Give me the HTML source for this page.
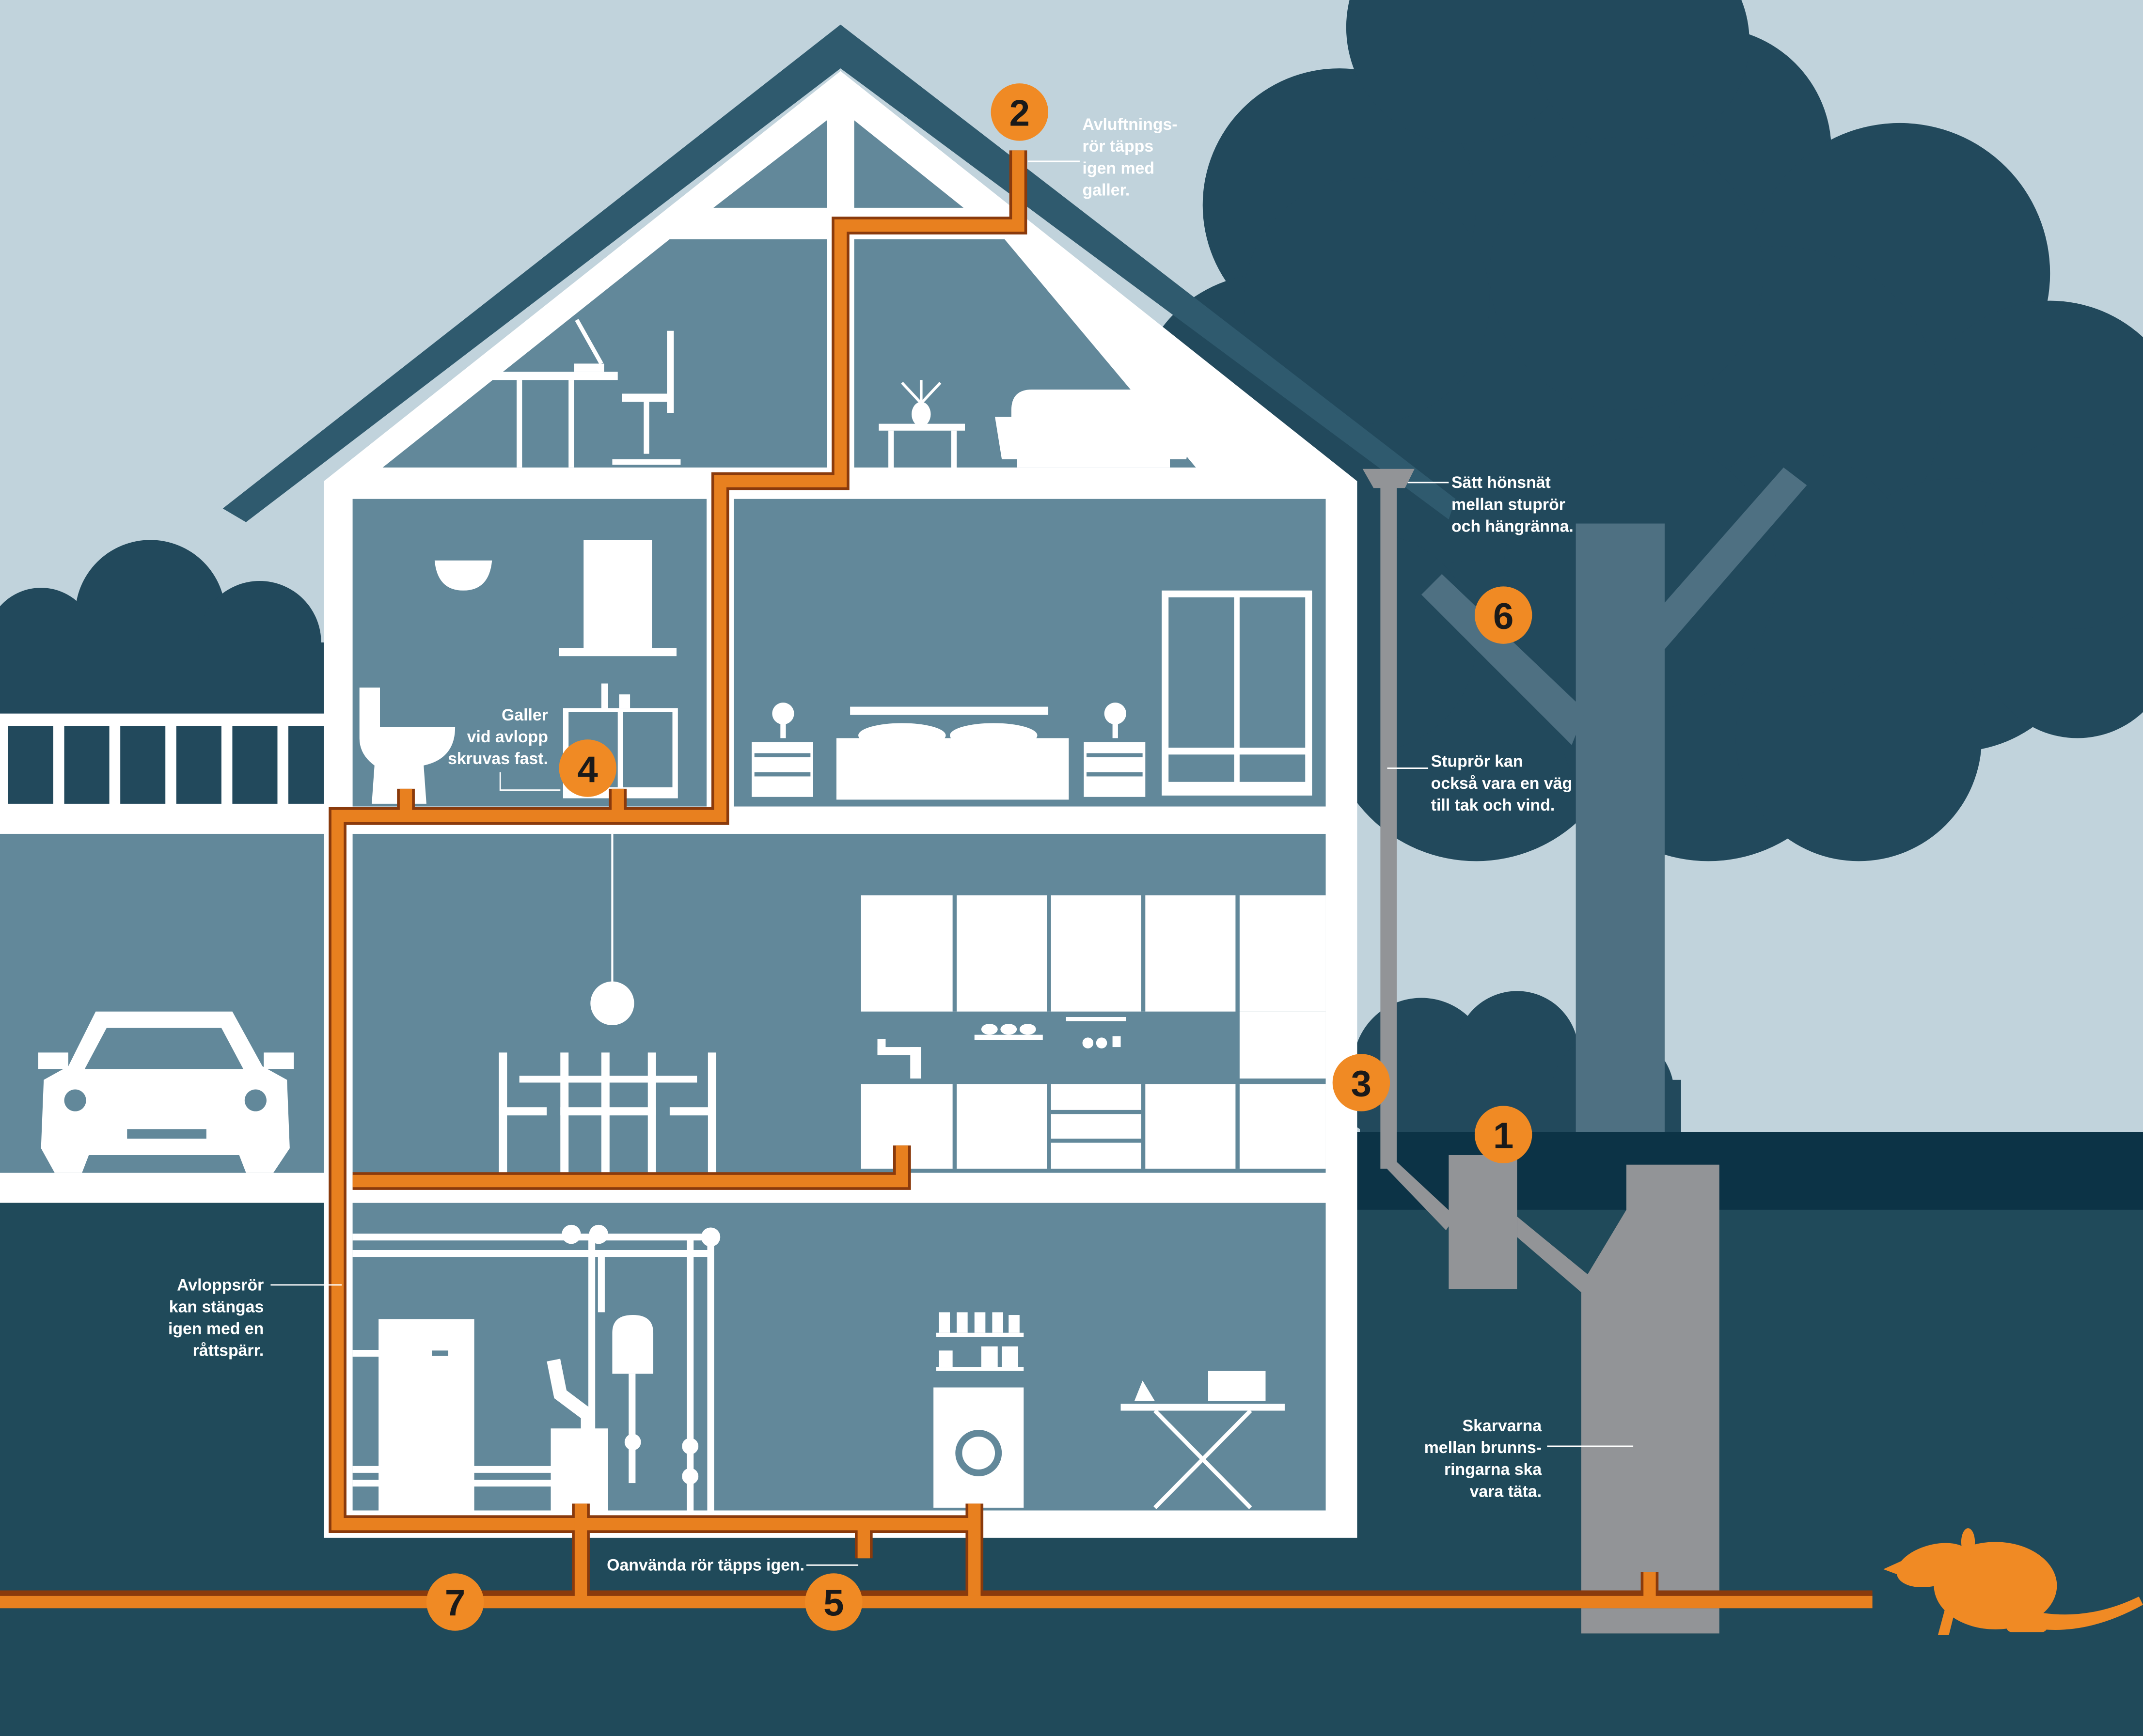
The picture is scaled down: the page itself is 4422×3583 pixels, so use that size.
<!DOCTYPE html>
<html><head><meta charset="utf-8"><style>
html,body{margin:0;padding:0;width:4422px;height:3583px;overflow:hidden;background:#c1d3dc}
svg{display:block}
text{font-family:"Liberation Sans",sans-serif;font-weight:bold;fill:#fff;font-size:12px}
.num{fill:#1a1a1a;font-size:27px;font-weight:bold;text-anchor:middle}
</style></head><body>
<svg width="4422" height="3583" viewBox="0 0 1568 1270" preserveAspectRatio="none" xmlns="http://www.w3.org/2000/svg">
<rect width="1568" height="1270" fill="#c1d3dc"/>
<!-- right trees -->
<g fill="#22495c">
<circle cx="1110" cy="120" r="115"/><circle cx="980" cy="150" r="100"/><circle cx="1250" cy="110" r="90"/>
<circle cx="1070" cy="20" r="85"/><circle cx="1200" cy="30" r="80"/>
<circle cx="1390" cy="200" r="110"/><circle cx="1500" cy="320" r="100"/><circle cx="1300" cy="300" r="120"/>
<circle cx="930" cy="300" r="100"/><circle cx="1100" cy="330" r="130"/><circle cx="1430" cy="450" r="100"/>
<circle cx="1520" cy="470" r="70"/><circle cx="1080" cy="520" r="110"/><circle cx="1250" cy="520" r="110"/>
<circle cx="1360" cy="540" r="90"/><circle cx="1000" cy="470" r="80"/>
<circle cx="1190" cy="200" r="100"/><circle cx="1310" cy="420" r="90"/><circle cx="1520" cy="390" r="70"/>
<circle cx="1200" cy="420" r="100"/><circle cx="1000" cy="220" r="90"/>
<circle cx="1040" cy="780" r="50"/><circle cx="1110" cy="770" r="45"/><circle cx="1180" cy="800" r="45"/><circle cx="1010" cy="800" r="30"/>
<rect x="995" y="790" width="235" height="40"/>
</g>
<!-- left trees -->
<g fill="#22495c">
<circle cx="30" cy="470" r="40"/><circle cx="110" cy="450" r="55"/><circle cx="190" cy="470" r="45"/>
<rect x="0" y="470" width="240" height="60"/>
</g>
<!-- tree trunk -->
<g fill="#4e7082">
<rect x="1153" y="383" width="65" height="450"/>
<polygon points="1040,435 1055,420 1160,520 1150,545"/>
<polygon points="1210,450 1305,342 1322,355 1218,475"/>
</g>
<!-- ground -->
<rect x="0" y="828" width="1568" height="442" fill="#204a5a"/>
<rect x="990" y="828" width="578" height="57" fill="#0c3346"/>
<!-- fence -->
<rect x="0" y="522" width="240" height="88" fill="#fff"/>
<g fill="#22495c">
<rect x="6" y="531" width="33" height="57"/><rect x="47" y="531" width="33" height="57"/><rect x="88" y="531" width="33" height="57"/>
<rect x="129" y="531" width="33" height="57"/><rect x="170" y="531" width="33" height="57"/><rect x="211" y="531" width="27" height="57"/>
</g>
<rect x="0" y="610" width="240" height="248" fill="#62889a"/>
<rect x="0" y="858" width="240" height="22" fill="#fff"/>
<rect x="0" y="880" width="240" height="300" fill="#204a5a"/>
<!-- car -->
<g fill="#fff">
<path d="M70,740 L170,740 L192,780 L210,790 L212,840 L200,858 L180,858 L175,845 L65,845 L60,858 L40,858 L30,840 L32,790 L50,780 Z"/>
<rect x="28" y="770" width="22" height="12"/><rect x="193" y="770" width="22" height="12"/>
</g>
<path d="M78,752 L162,752 L178,782 L62,782 Z" fill="#62889a"/>
<rect x="93" y="826" width="58" height="7" fill="#62889a"/>
<circle cx="55" cy="805" r="8" fill="#62889a"/><circle cx="187" cy="805" r="8" fill="#62889a"/>
<!-- roof -->
<polygon points="615,18 163,372 180,382 615,50 1060,380 1065,365" fill="#2f5a6e"/>
<!-- house white -->
<polygon points="615,52 237,352 237,1125 993,1125 993,352" fill="#fff"/>
<g fill="#62889a">
<polygon points="522,152 605,88 605,152"/><polygon points="625,88 705,152 625,152"/>
<polygon points="280,342 490,175 605,175 605,342"/>
<polygon points="625,175 735,175 875,342 625,342"/>
<rect x="258" y="365" width="259" height="225"/>
<rect x="537" y="365" width="433" height="225"/>
<rect x="258" y="610" width="712" height="248"/>
<rect x="258" y="880" width="712" height="225"/>
</g>
<!-- attic furniture -->
<g fill="#fff" stroke="#fff">
<rect x="360" y="272" width="92" height="6" stroke="none"/>
<rect x="378" y="278" width="4" height="64" stroke="none"/><rect x="416" y="278" width="4" height="64" stroke="none"/>
<line x1="422" y1="234" x2="440" y2="266" stroke-width="3"/><rect x="420" y="266" width="22" height="6" stroke="none"/>
<rect x="488" y="242" width="5" height="60" stroke="none"/><rect x="455" y="288" width="36" height="6" stroke="none"/>
<line x1="473" y1="294" x2="473" y2="332" stroke-width="4"/><line x1="448" y1="338" x2="498" y2="338" stroke-width="4"/>
<polygon points="643,310 706,310 706,315 643,315" stroke="none"/><rect x="650" y="315" width="4" height="28" stroke="none"/><rect x="696" y="315" width="4" height="28" stroke="none"/>
<ellipse cx="674" cy="303" rx="7" ry="9" stroke="none"/>
<line x1="674" y1="295" x2="660" y2="280" stroke-width="2"/><line x1="674" y1="295" x2="688" y2="280" stroke-width="2"/><line x1="674" y1="295" x2="674" y2="278" stroke-width="2"/>
<path d="M740,300 Q740,285 755,285 L848,285 Q862,285 862,300 L862,305 L874,305 L868,336 L856,336 L856,342 L744,342 L744,336 L733,336 L728,305 L740,305 Z" stroke="none"/>
</g>
<!-- bathroom -->
<g fill="#fff">
<path d="M318,410 L360,410 Q358,432 339,432 Q320,432 318,410 Z"/>
<rect x="427" y="395" width="50" height="80"/><rect x="409" y="474" width="86" height="6"/>
<path d="M263,503 L278,503 L278,532 L333,532 Q333,555 310,560 L312,588 L272,588 L274,560 Q263,552 263,540 Z"/>
<rect x="412" y="518" width="84" height="66"/>
<rect x="440" y="500" width="5" height="20"/><rect x="453" y="508" width="8" height="10"/>
</g>
<g fill="#62889a"><rect x="416" y="521" width="36" height="55"/><rect x="456" y="521" width="36" height="55"/></g>
<!-- bedroom -->
<g fill="#fff">
<rect x="550" y="543" width="45" height="40"/><circle cx="573" cy="522" r="8"/><rect x="571" y="528" width="4" height="12"/>
<rect x="793" y="543" width="45" height="40"/><circle cx="816" cy="522" r="8"/><rect x="814" y="528" width="4" height="12"/>
<rect x="622" y="517" width="145" height="6"/><rect x="612" y="540" width="170" height="45"/>
<ellipse cx="660" cy="538" rx="32" ry="9"/><ellipse cx="727" cy="538" rx="32" ry="9"/>
<rect x="850" y="432" width="110" height="150"/>
</g>
<g fill="#62889a">
<rect x="855" y="437" width="48" height="110"/><rect x="907" y="437" width="48" height="110"/>
<rect x="855" y="552" width="48" height="20"/><rect x="907" y="552" width="48" height="20"/>
<rect x="552" y="551" width="41" height="3"/><rect x="795" y="551" width="41" height="3"/>
<rect x="552" y="565" width="41" height="3"/><rect x="795" y="565" width="41" height="3"/>
</g>
<!-- kitchen floor -->
<g fill="#fff">
<line x1="448" y1="610" x2="448" y2="720" stroke="#fff" stroke-width="1.5"/>
<circle cx="448" cy="734" r="16"/>
<rect x="380" y="787" width="130" height="5"/>
<rect x="365" y="770" width="6" height="88"/><rect x="410" y="770" width="6" height="88"/><rect x="440" y="770" width="6" height="88"/><rect x="474" y="770" width="6" height="88"/><rect x="518" y="770" width="6" height="88"/>
<rect x="365" y="810" width="35" height="6"/><rect x="410" y="810" width="36" height="6"/><rect x="440" y="810" width="40" height="6"/><rect x="490" y="810" width="34" height="6"/>
<rect x="630" y="655" width="340" height="85"/>
<rect x="906" y="740" width="64" height="50"/>
<rect x="630" y="793" width="340" height="62"/>
<rect x="642" y="760" width="6" height="12"/><rect x="642" y="766" width="30" height="6"/><rect x="666" y="766" width="8" height="24"/>
<rect x="713" y="757" width="50" height="4"/><ellipse cx="724" cy="753" rx="6" ry="4"/><ellipse cx="738" cy="753" rx="6" ry="4"/><ellipse cx="752" cy="753" rx="6" ry="4"/>
<rect x="780" y="744" width="44" height="3"/><circle cx="796" cy="763" r="4"/><circle cx="806" cy="763" r="4"/><rect x="814" y="758" width="6" height="8"/>
</g>
<g fill="#62889a">
<rect x="697" y="655" width="3" height="85"/><rect x="766" y="655" width="3" height="85"/><rect x="835" y="655" width="3" height="85"/><rect x="904" y="655" width="3" height="135"/>
<rect x="697" y="793" width="3" height="62"/><rect x="766" y="793" width="3" height="62"/><rect x="835" y="793" width="3" height="62"/><rect x="904" y="793" width="3" height="62"/>
<rect x="769" y="812" width="66" height="3"/><rect x="769" y="833" width="66" height="3"/>
<rect x="630" y="789" width="340" height="3"/>
</g>
<!-- basement -->
<g fill="none" stroke="#fff" stroke-width="5">
<line x1="258" y1="905" x2="525" y2="905"/><line x1="258" y1="917" x2="520" y2="917"/>
<line x1="520" y1="900" x2="520" y2="1105"/><line x1="505" y1="905" x2="505" y2="1105"/>
<line x1="433" y1="905" x2="433" y2="1050"/><line x1="440" y1="917" x2="440" y2="960"/>
<line x1="258" y1="990" x2="280" y2="990"/><line x1="258" y1="1075" x2="405" y2="1075"/><line x1="258" y1="1085" x2="405" y2="1085"/>
<path d="M405,995 L410,1020 L430,1035 L430,1050" stroke-width="10"/>
</g>
<g fill="#fff">
<rect x="277" y="965" width="70" height="140"/><rect x="403" y="1045" width="42" height="60"/>
<path d="M448,975 Q448,962 463,962 Q478,962 478,975 L478,1005 L448,1005 Z"/><rect x="460" y="1005" width="5" height="80"/>
<circle cx="418" cy="903" r="7"/><circle cx="438" cy="903" r="7"/><circle cx="520" cy="905" r="7"/><circle cx="463" cy="1055" r="6"/><circle cx="505" cy="1058" r="6"/><circle cx="505" cy="1080" r="6"/>
<rect x="683" y="1015" width="66" height="88"/><circle cx="716" cy="1063" r="17" fill="#62889a"/><circle cx="716" cy="1063" r="12"/>
<rect x="685" y="975" width="64" height="3"/><rect x="685" y="1000" width="64" height="3"/>
<rect x="687" y="960" width="8" height="15"/><rect x="700" y="960" width="8" height="15"/><rect x="713" y="960" width="8" height="15"/><rect x="726" y="960" width="8" height="15"/><rect x="738" y="962" width="8" height="13"/>
<rect x="687" y="988" width="10" height="12"/><rect x="718" y="985" width="12" height="15"/><rect x="733" y="985" width="12" height="15"/>
<rect x="820" y="1027" width="120" height="5"/>
<line x1="845" y1="1032" x2="915" y2="1103" stroke="#fff" stroke-width="3"/><line x1="915" y1="1032" x2="845" y2="1103" stroke="#fff" stroke-width="3"/>
<path d="M830,1025 L836,1010 L845,1025 Z"/>
<rect x="884" y="1003" width="42" height="22"/>
</g>
<rect x="316" y="988" width="12" height="4" fill="#62889a"/>
<!-- gray downpipe -->
<g fill="#929497">
<path d="M997,343 L1035,343 L1028,357 L1005,357 Z"/>
<rect x="1010" y="355" width="12" height="500"/>
<polygon points="1010,850 1022,850 1065,890 1058,900"/>
<rect x="1060" y="845" width="50" height="98"/>
<polygon points="1110,890 1165,935 1160,948 1110,905"/>
<polygon points="1190,852 1258,852 1258,1195 1157,1195 1157,940 1190,885"/>
</g>
<!-- orange pipes -->
<g fill="none" stroke-linejoin="miter">
<g stroke="#8a3a0c" stroke-width="13">
<path d="M745,110 L745,165 L615,165 L615,352 L527,352 L527,597 L247,597 L247,1115 L713,1115"/>
<path d="M297,577 L297,597"/><path d="M452,577 L452,597"/>
<path d="M258,864 L660,864 L660,838"/>
<path d="M425,1100 L425,1170"/><path d="M632,1115 L632,1140"/><path d="M713,1100 L713,1170"/>
<path d="M0,1170 L1370,1170"/><path d="M1207,1150 L1207,1170"/>
</g>
<g stroke="#e8801f" stroke-width="9">
<path d="M745,110 L745,165 L615,165 L615,352 L527,352 L527,597 L247,597 L247,1115 L713,1115"/>
<path d="M297,577 L297,597"/><path d="M452,577 L452,597"/>
<path d="M258,864 L660,864 L660,838"/>
<path d="M425,1100 L425,1170"/><path d="M632,1115 L632,1140"/><path d="M713,1100 L713,1170"/>
<path d="M0,1172 L1370,1172"/><path d="M1207,1150 L1207,1170"/>
</g>
</g>
<!-- rat -->
<g fill="#f08a24">
<ellipse cx="1460" cy="1160" rx="45" ry="32"/>
<ellipse cx="1415" cy="1145" rx="28" ry="15" transform="rotate(-15 1415 1145)"/>
<path d="M1378,1148 L1400,1138 L1405,1158 Z"/>
<ellipse cx="1440" cy="1128" rx="5" ry="10"/>
<path d="M1495,1180 Q1530,1185 1565,1168 L1568,1174 Q1530,1195 1495,1192 Z"/>
<rect x="1468" y="1180" width="30" height="14" rx="4"/>
<path d="M1425,1170 L1432,1172 L1426,1196 L1418,1196 Z"/>
</g>
<!-- number circles -->
<g fill="#f08a24">
<circle cx="746" cy="82" r="21"/><circle cx="1100" cy="450" r="21"/><circle cx="996" cy="792" r="21"/><circle cx="430" cy="562" r="21"/>
<circle cx="1100" cy="830" r="21"/><circle cx="610" cy="1172" r="21"/><circle cx="333" cy="1172" r="21"/>
</g>
<text class="num" x="746" y="92">2</text><text class="num" x="1100" y="460">6</text><text class="num" x="996" y="802">3</text>
<text class="num" x="430" y="572">4</text><text class="num" x="1100" y="840">1</text><text class="num" x="610" y="1182">5</text><text class="num" x="333" y="1182">7</text>
<g stroke="#fff" stroke-width="1">
<line x1="752" y1="118" x2="790" y2="118"/><line x1="1030" y1="353" x2="1060" y2="353"/>
<line x1="1015" y1="562" x2="1045" y2="562"/><line x1="198" y1="940" x2="250" y2="940"/>
<line x1="1132" y1="1058" x2="1195" y2="1058"/><line x1="590" y1="1145" x2="628" y2="1145"/>
<polyline points="366,565 366,578 410,578" fill="none"/>
</g>
<text x="792" y="95">Avluftnings-</text><text x="792" y="111">rör täpps</text><text x="792" y="127">igen med</text><text x="792" y="143">galler.</text>
<text x="1062" y="357">Sätt hönsnät</text><text x="1062" y="373">mellan stuprör</text><text x="1062" y="389">och hängränna.</text>
<text x="1047" y="561">Stuprör kan</text><text x="1047" y="577">också vara en väg</text><text x="1047" y="593">till tak och vind.</text>
<g text-anchor="end">
<text x="401" y="527">Galler</text><text x="401" y="543">vid avlopp</text><text x="401" y="559">skruvas fast.</text>
<text x="193" y="944">Avloppsrör</text><text x="193" y="960">kan stängas</text><text x="193" y="976">igen med en</text><text x="193" y="992">råttspärr.</text>
<text x="1128" y="1047">Skarvarna</text><text x="1128" y="1063">mellan brunns-</text><text x="1128" y="1079">ringarna ska</text><text x="1128" y="1095">vara täta.</text>
</g>
<text x="444" y="1149">Oanvända rör täpps igen.</text>
</svg>
</body></html>
